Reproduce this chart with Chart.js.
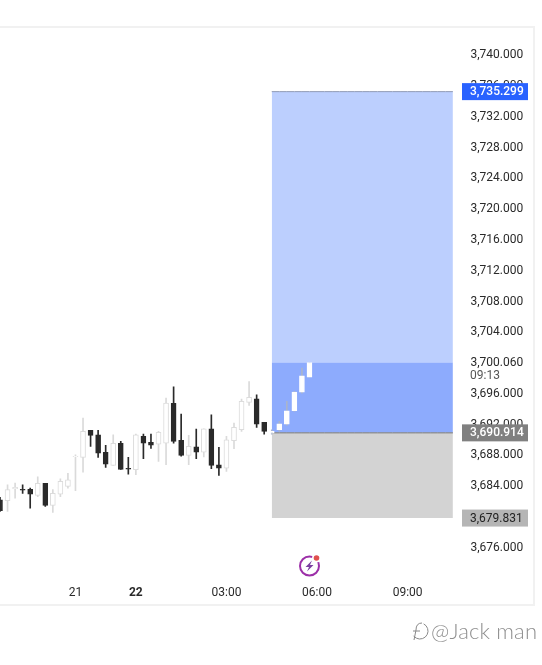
<!DOCTYPE html>
<html>
<head>
<meta charset="utf-8">
<style>html,body{margin:0;padding:0;background:#fff}canvas{display:block}</style>
<script src="https://cdn.jsdelivr.net/npm/chart.js@4"></script>
</head>
<body>
<canvas id="c" width="542" height="665"></canvas>
<script>
const opens  = [3682.2,3682.09,3683.65,3683.56,3683.56,3682.78,3684.34,3681.48,3682.95,3683.95,3687.81,3687.72,3691.23,3690.67,3688.37,3686.68,3689.54,3686.29,3686.12,3690.45,3689.67,3689.45,3689.58,3694.74,3689.93,3687.98,3689.11,3688.41,3691.45,3686.77,3686.33,3689.89,3691.32,3694.87,3695.35,3692.27,3690.88,3691.32,3692.05,3693.79,3696.21,3698.16];
const closes = [3680.8,3683.52,3683.82,3683.47,3682.95,3684.34,3681.48,3683.04,3684.6,3684.82,3687.85,3691.1,3690.58,3688.28,3686.85,3689.54,3686.16,3686.2,3690.67,3689.58,3689.32,3690.97,3694.78,3689.8,3687.98,3689.15,3688.41,3691.45,3686.68,3686.33,3690.02,3691.62,3695.0,3695.52,3692.05,3691.1,3691.1,3692.1,3693.79,3696.21,3698.34,3700.06];
const highs  = [3682.52,3684.17,3684.38,3684.17,3683.73,3685.21,3684.34,3683.52,3684.95,3685.64,3688.07,3692.83,3691.23,3691.23,3689.28,3690.67,3689.8,3687.72,3690.75,3690.75,3690.75,3691.1,3695.43,3696.91,3693.35,3690.58,3691.4,3691.45,3693.27,3689.02,3690.45,3692.18,3695.3,3697.6,3695.87,3692.27,3691.32,3692.4,3695.0,3696.3,3699.33,3700.06];
const lows   = [3680.7,3680.7,3682.43,3683.04,3681.13,3682.61,3681.35,3680.57,3682.61,3683.73,3683.39,3685.81,3689.15,3687.72,3686.42,3686.68,3686.16,3685.55,3685.47,3687.55,3688.89,3687.2,3686.77,3689.58,3687.89,3686.77,3687.55,3687.8,3686.25,3685.38,3685.9,3688.85,3691.1,3694.48,3691.62,3690.75,3690.75,3691.1,3691.88,3693.7,3696.08,3698.16];
const xTickLabels = {10:'21',18:'22',30:'03:00',42:'06:00',54:'09:00'};
const categoryCount = 62;
const boxStart = 36, boxEnd = 60;
const targetPrice = 3735.299, currentPrice = 3700.06, entryPrice = 3690.914, stopPrice = 3679.831;
const yTicks = [3740,3736,3732,3728,3724,3720,3716,3712,3708,3704,3700.06,3696,3692,3688,3684,3676];
const countdown = '09:13';

const categories = Array.from({length:categoryCount},(_,i)=>String(i));
const fmt = v => v.toLocaleString('en-US',{minimumFractionDigits:3,maximumFractionDigits:3});
const boxLine = v => categories.map((_,i)=> i>=boxStart && i<=boxEnd ? v : null);
const FONT = 'Roboto, "Open Sans", sans-serif';

const framePlugin = {
  id:'frame',
  beforeDraw(chart){
    const c = chart.ctx; c.save();
    c.fillStyle='#fff'; c.fillRect(0,0,542,665);
    c.strokeStyle='#f1f1f1'; c.lineWidth=2;
    c.beginPath(); c.moveTo(0,27); c.lineTo(534,27); c.lineTo(534,605); c.lineTo(0,605); c.stroke();
    c.restore();
  }
};
const tagPlugin = {
  id:'tags',
  afterDraw(chart){
    const c = chart.ctx, y = chart.scales.y; c.save();
    const tag = (v,bg,fg,weight)=>{
      const p = y.getPixelForValue(v);
      c.fillStyle=bg; c.fillRect(462,p-8.5,66,17);
      c.fillStyle=fg; c.font=weight+' 12px '+FONT; c.textAlign='left'; c.textBaseline='middle';
      c.fillText(fmt(v),470,p+0.5);
    };
    tag(targetPrice,'#2962ff','#fff','500');
    tag(entryPrice,'#808080','#fff','500');
    tag(stopPrice,'#b5b5b5','#222','400');
    c.fillStyle='#555'; c.font='12px '+FONT; c.textAlign='left'; c.textBaseline='middle';
    c.fillText(countdown,470,y.getPixelForValue(currentPrice)+13.5);
    // lightning badge
    c.strokeStyle='#9c2fa8'; c.lineWidth=2;
    c.beginPath(); c.arc(309.5,566,9.5,0,Math.PI*2); c.stroke();
    c.fillStyle='#fff'; c.beginPath(); c.arc(316.5,558,4.5,0,Math.PI*2); c.fill();
    c.fillStyle='#e0504f'; c.beginPath(); c.arc(316.5,558,2.8,0,Math.PI*2); c.fill();
    c.fillStyle='#7b3fa0'; c.beginPath();
    c.moveTo(312,560.5); c.lineTo(305.5,567); c.lineTo(309,567); c.lineTo(307,571.5); c.lineTo(313.5,565); c.lineTo(310,565); c.closePath(); c.fill();
    // watermark
    c.strokeStyle='#8a8a8a'; c.lineWidth=1;
    c.beginPath(); c.arc(420,631,8,-1.1,2.5); c.stroke();
    c.beginPath(); c.moveTo(422,623); c.quadraticCurveTo(416,623,416,630); c.lineTo(414,640); c.stroke();
    c.beginPath(); c.moveTo(413,631); c.lineTo(420,631); c.stroke();
    c.fillStyle='#8f8f8f'; c.font='300 22px Lato, sans-serif'; c.textAlign='left'; c.textBaseline='middle';
    c.letterSpacing='0.15px';
    c.fillText('@Jack man',431,632);
    c.restore();
  }
};

const isUp = i => closes[i] >= opens[i];
new Chart(document.getElementById('c'),{
  type:'bar',
  data:{
    labels:categories,
    datasets:[
      {type:'line',order:10,data:boxLine(targetPrice),fill:{value:currentPrice},backgroundColor:'#bccffe',borderColor:'#8f9ab5',borderWidth:1,pointRadius:0},
      {type:'line',order:9,data:boxLine(currentPrice),fill:{value:entryPrice},backgroundColor:'#8dabfd',borderColor:'rgba(0,0,0,0)',borderWidth:0,pointRadius:0},
      {type:'line',order:8,data:boxLine(stopPrice),fill:{value:entryPrice},backgroundColor:'#d3d3d3',borderColor:'rgba(0,0,0,0)',borderWidth:0,pointRadius:0},
      {type:'line',order:7,data:boxLine(entryPrice),fill:false,borderColor:'#777',borderWidth:1,pointRadius:0},
      {order:5,grouped:false,barThickness:1,data:highs.map((h,i)=>[lows[i],h]),
        backgroundColor:c=>isUp(c.dataIndex)?(c.dataIndex>=boxStart?'#a9b4cc':'#dadada'):'#2a2a2a',borderWidth:0},
      {order:4,grouped:false,barThickness:5,data:opens.map((o,i)=>[o,closes[i]]),
        backgroundColor:c=>isUp(c.dataIndex)?'#ffffff':'#2a2a2a',
        borderColor:c=>isUp(c.dataIndex)?(c.dataIndex>=boxStart?'#ffffff':'#dcdcdc'):'#2a2a2a',
        borderWidth:1,borderSkipped:false}
    ]
  },
  options:{
    responsive:false,animation:false,
    layout:{padding:{left:0,right:0,top:29.5,bottom:58.5}},
    plugins:{legend:{display:false},tooltip:{enabled:false}},
    scales:{
      x:{offset:false,grid:{display:false,drawTicks:false},border:{display:false},
        afterFit:s=>{s.height=30;s.paddingLeft=0;s.paddingRight=0},
        ticks:{autoSkip:false,maxRotation:0,minRotation:0,padding:9,color:'#2a2a2a',
          font:c=>({family:FONT,size:12,weight:c.index===18?'700':'400'}),
          callback:(v,i)=>xTickLabels[i]||''}},
      y:{position:'right',min:3672.23,max:3743.38,grid:{display:false,drawTicks:false},border:{display:false},
        afterBuildTicks:s=>{s.ticks=yTicks.map(value=>({value}))},
        afterFit:s=>{s.width=81.56;s.paddingTop=0;s.paddingBottom=0},
        ticks:{padding:10,color:'#2a2a2a',font:{family:FONT,size:12},
          callback:v=>fmt(v)}}
    }
  },
  plugins:[framePlugin,tagPlugin]
});
</script>
</body>
</html>
